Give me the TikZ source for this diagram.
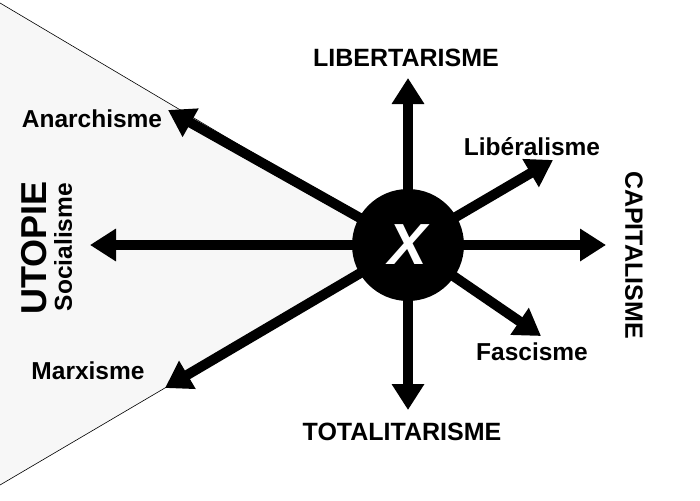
\documentclass[tikz,border=0pt]{standalone}
\usepackage{fontspec}
\setmainfont{Liberation Sans}
\usetikzlibrary{arrows.meta}
\begin{document}
\begin{tikzpicture}[x=1pt,y=-1pt,
  arr/.style={line width=10pt,-{Triangle[width=31pt,length=26pt]}},
  lab/.style={font=\bfseries\fontsize{24.5}{26}\selectfont,inner sep=0pt},
  big/.style={font=\bfseries\fontsize{25}{27}\selectfont,inner sep=0pt}]
\useasboundingbox (0,0) rectangle (700,500);
\fill[white] (0,0) rectangle (700,500);
\draw[fill=black!3,line width=0.6pt] (0,3) -- (408,245) -- (0,485);
\coordinate (c) at (408,245);
\coordinate (tU) at (408,78);
\coordinate (tD) at (408,410);
\coordinate (tL) at (90,245);
\coordinate (tR) at (606,245);
\coordinate (tA) at (168,110);
\coordinate (tM) at (165,388);
\coordinate (tLi) at (553,160);
\coordinate (tF) at (541,336);
\foreach \t in {tU,tD,tL,tR,tA,tM,tLi,tF} \draw[arr] (c) -- (\t);
\node[circle,fill=black,minimum size=112pt,inner sep=0pt,text=white,font=\bfseries\itshape\fontsize{58}{58}\selectfont] (x) at (c) {X};
\node[big] (lib) at (406,58) {LIBERTARISME};
\node[big] (tot) at (402,432) {TOTALITARISME};
\node[lab] (an) at (92,119) {Anarchisme};
\node[lab] (ma) at (88,371) {Marxisme};
\node[lab] (li) at (532,147) {Libéralisme};
\node[lab] (fa) at (532,352) {Fascisme};
\node[big,rotate=-90] (cap) at (634,255) {CAPITALISME};
\node[font=\bfseries\fontsize{36}{38}\selectfont,inner sep=0pt,rotate=90] (ut) at (34,248) {UTOPIE};
\node[lab,rotate=90] (so) at (63,247) {Socialisme};
\end{tikzpicture}
\end{document}
